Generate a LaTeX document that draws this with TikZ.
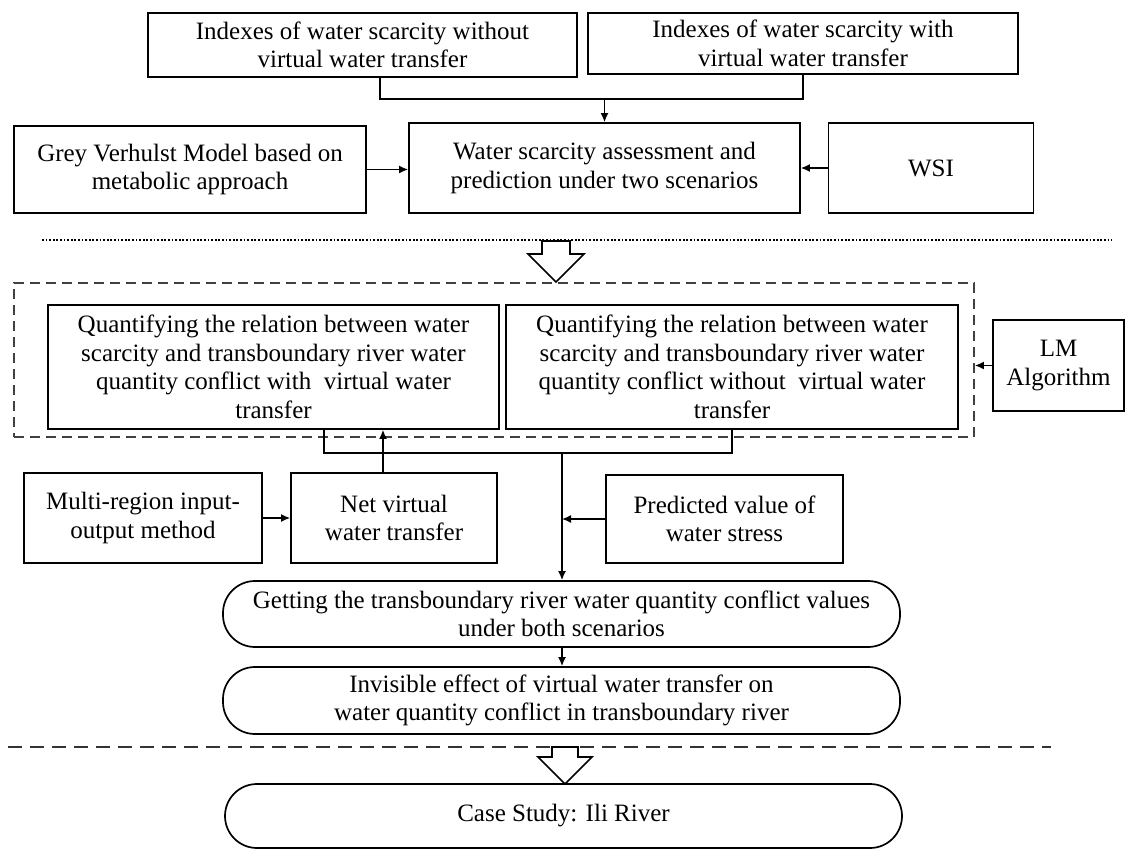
\documentclass[tikz,border=0pt]{standalone}
\usepackage{fontspec}
\setmainfont{Liberation Serif}
\usetikzlibrary{arrows.meta}
\begin{document}
\begin{tikzpicture}[x=1pt,y=-1pt,
  box/.style={draw, line width=1.7pt, align=center, inner sep=0pt,
    font=\fontsize{25}{28.5}\selectfont},
  pill/.style={box, rounded corners=32pt},
  arr/.style={line width=1.5pt, -{Latex[length=9pt,width=8pt]}},
  conn/.style={line width=1.5pt},
  hollow/.style={line width=1.6pt, fill=white, line join=miter}]
\useasboundingbox (0,0) rectangle (1126,850);

% top row
\node[box, minimum width=429pt, minimum height=64pt] (ind1) at (362.5,45) {Indexes of water scarcity without\\virtual water transfer};
\node[box, minimum width=430pt, minimum height=61pt] (ind2) at (803,43.5) {Indexes of water scarcity with\\virtual water transfer};
\node[box, minimum width=352pt, minimum height=87pt] (grey) at (190,169.5) {Grey Verhulst Model based on\\metabolic approach};
\node[box, minimum width=391pt, minimum height=90pt] (water) at (604.5,168) {Water scarcity assessment and\\prediction under two scenarios};
\node[box, minimum width=205pt, minimum height=90pt] (wsi) at (931,168) {WSI};

\coordinate (d1) at (380,99);
\coordinate (j1) at (604.5,99);
\draw[conn] (ind1.south -| d1) -- (d1) -- (j1 -| ind2.south) -- (ind2.south);
\draw[arr] (j1) -- (water.north);
\draw[arr] (grey.east) -- (grey.east -| water.west);
\draw[arr] (wsi.west) -- (wsi.west -| water.east);

% dotted separator and hollow arrow
\draw[line width=1.8pt, dash pattern=on 1.8pt off 1.8pt] (42,240) -- (1112,240);
\draw[hollow] (542,241) -- (542,254) -- (528,254) -- (556,282) -- (584,254) -- (570,254) -- (570,241) -- cycle;

% dashed group
\node[draw=black!75, line width=1.8pt, dash pattern=on 10pt off 6pt, minimum width=960pt, minimum height=154pt, inner sep=0pt] (grp) at (494,360) {};
\node[box, minimum width=451pt, minimum height=124pt] (qL) at (273.5,367) {Quantifying the relation between water\\scarcity and transboundary river water\\quantity conflict with\ \ virtual water\\transfer};
\node[box, minimum width=452pt, minimum height=124pt] (qR) at (732,367) {Quantifying the relation between water\\scarcity and transboundary river water\\quantity conflict without\ \ virtual water\\transfer};
\node[box, minimum width=131pt, minimum height=91pt] (lm) at (1058.5,365.5) {LM\\Algorithm};
\draw[arr] (lm.west) -- (lm.west -| grp.east);

% middle row
\node[box, minimum width=238pt, minimum height=90pt] (multi) at (143,518) {Multi-region input-\\output method};
\node[box, minimum width=206pt, minimum height=90pt] (net) at (394,518) {Net virtual\\water transfer};
\node[box, minimum width=237pt, minimum height=88pt] (pred) at (724.5,519) {Predicted value of\\water stress};

\coordinate (cL) at (324,453);
\coordinate (cR) at (732,453);
\coordinate (j2) at (562,453);
\coordinate (nx) at (383,453);
\draw[conn] (qL.south -| cL) -- (cL) -- (cR) -- (qR.south -| cR);
\draw[arr] (net.north -| nx) -- (qL.south -| nx);
\draw[arr] (multi.east) -- (multi.east -| net.west);

% bottom
\node[pill, minimum width=677pt, minimum height=66pt] (get) at (561.5,614) {Getting the transboundary river water quantity conflict values\\under both scenarios};
\node[pill, minimum width=677pt, minimum height=67pt] (inv) at (561.5,700.5) {Invisible effect of virtual water transfer on\\water quantity conflict in transboundary river};
\draw[arr] (j2) -- (get.north -| j2);
\draw[arr] (pred.west) -- (pred.west -| j2);
\draw[arr] (get.south -| j2) -- (inv.north -| j2);

\draw[black!80, line width=2pt, dash pattern=on 14pt off 8pt] (8,747) -- (1051,747);
\draw[hollow] (552,747) -- (552,757) -- (538,757) -- (565,784) -- (592,757) -- (578,757) -- (578,747) -- cycle;

\node[pill, minimum width=677pt, minimum height=64pt] (case) at (563.5,816) {Case Study: Ili River};
\end{tikzpicture}
\end{document}
